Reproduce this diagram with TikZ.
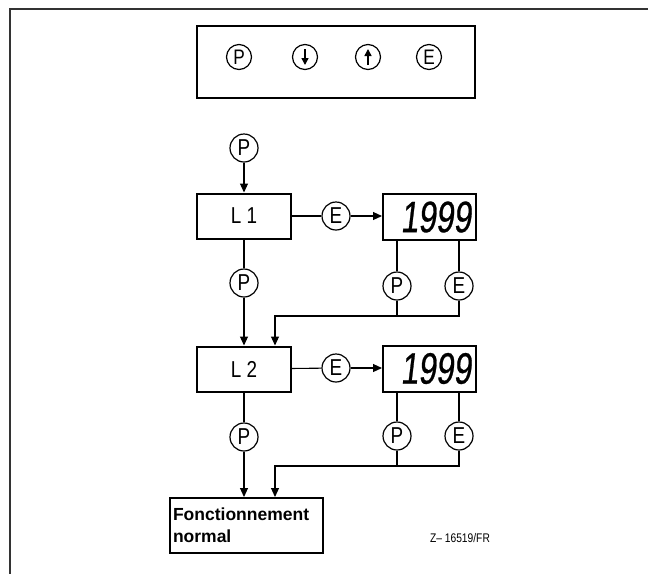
\documentclass[tikz,border=0pt]{standalone}
\usepackage{fontspec}
\setmainfont{Liberation Sans}
\newfontfamily\segfont{Liberation Sans}[FakeSlant=0.12,FakeStretch=0.72,FakeBold=0.6]
\newfontfamily\condfont{Liberation Sans}[FakeStretch=0.82]
\usetikzlibrary{arrows.meta}
\tikzset{
  ln/.style={line width=1.1pt},
  arr/.style={line width=1.1pt,-{Triangle[length=9pt,width=8pt]}},
  btn/.style={circle,draw,line width=1.2pt,minimum size=28pt,inner sep=0pt,font=\condfont\fontsize{23}{23}\selectfont},
  topbtn/.style={circle,draw,line width=1.2pt,minimum size=25pt,inner sep=0pt,font=\condfont\fontsize{21}{21}\selectfont},
  lbox/.style={draw,line width=2pt,minimum width=94pt,minimum height=45pt,inner sep=0pt,font=\condfont\fontsize{23}{23}\selectfont},
  disp/.style={draw,line width=2pt,minimum height=46pt,text width=83pt,inner xsep=5pt,inner ysep=0pt,align=right,font=\segfont\fontsize{44}{44}\selectfont},
  endbox/.style={draw,line width=2pt,text width=147pt,inner xsep=3pt,inner ysep=10pt,align=left,font=\bfseries\fontsize{17.5}{22}\selectfont},
  panel/.style={draw,line width=2pt,minimum width=278pt,minimum height=72pt},
  frameline/.style={line width=1.5pt,draw=black!80},
  smallarr/.style={line width=1.5pt,-{Triangle[length=7pt,width=7pt]}}
}
\begin{document}
\begin{tikzpicture}[x=1pt,y=-1pt]
\useasboundingbox (0,0) rectangle (648,574);
\draw[frameline] (648,9) -- (10,9) -- (10,574);
% top panel
\node[panel] (pan) at (336,62) {};
\node[topbtn] (tp) at (239,57) {P};
\node[topbtn] (tdn) at (305,57) {};
\node[topbtn] (tup) at (368,57) {};
\node[topbtn] (te) at (429,57) {E};
\draw[smallarr] ([yshift=8pt]tdn.center) -- ([yshift=-8pt]tdn.center);
\draw[smallarr] ([yshift=-8pt]tup.center) -- ([yshift=8pt]tup.center);
% flow
\node[btn] (p0) at (244,148) {P};
\node[lbox] (l1) at (244,216) {L 1};
\node[btn] (e1) at (336,216) {E};
\node[disp] (d1) at (429.5,217) {1999\hspace{4pt}};
\node[btn] (p1) at (244,283) {P};
\node[btn] (p1r) at (397,286) {P};
\node[btn] (e1r) at (459,286) {E};
\coordinate (j1) at (275,316);
\node[lbox] (l2) at (244,369) {L 2};
\node[btn] (e2) at (336,368) {E};
\node[disp] (d2) at (429.5,368.5) {1999\hspace{4pt}};
\node[btn] (p2) at (244,437) {P};
\node[btn] (p2r) at (397,436) {P};
\node[btn] (e2r) at (459,436) {E};
\coordinate (j2) at (275,466);
\node[endbox,anchor=north west] (fn) at (169,497) {Fonctionnement\\normal};
\node[font=\condfont\fontsize{12.5}{12.5}\selectfont] (zl) at (460,538) {Z– 16519/FR};
% connectors
\draw[arr] (p0) -- (l1);
\draw[ln] (l1) -- (e1);
\draw[arr] (e1) -- (e1 -| d1.west);
\draw[ln] (l1) -- (p1);
\draw[arr] (p1) -- (l2);
\draw[ln] (d1.south -| p1r) -- (p1r);
\draw[ln] (d1.south -| e1r) -- (e1r);
\draw[ln] (p1r) -- (p1r |- j1);
\draw[arr] (e1r) -- (e1r |- j1) -- (j1) -- (j1 |- l2.north);
\draw[ln] (l2) -- (e2);
\draw[arr] (e2) -- (e2 -| d2.west);
\draw[ln] (l2) -- (p2);
\draw[arr] (p2) -- (p2 |- fn.north);
\draw[ln] (d2.south -| p2r) -- (p2r);
\draw[ln] (d2.south -| e2r) -- (e2r);
\draw[ln] (p2r) -- (p2r |- j2);
\draw[arr] (e2r) -- (e2r |- j2) -- (j2) -- (j2 |- fn.north);
\end{tikzpicture}
\end{document}
